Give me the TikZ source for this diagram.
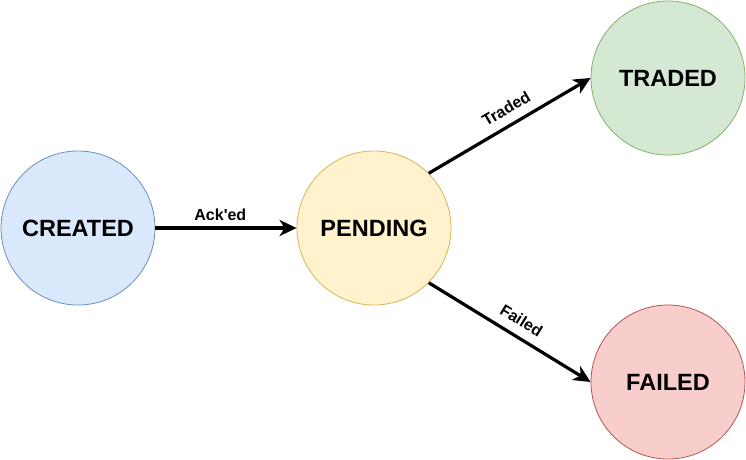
\documentclass[tikz,border=0pt]{standalone}
\usepackage{fontspec}
\setmainfont{Liberation Sans}[Ligatures=TeXOff]
\usetikzlibrary{arrows.meta}
\definecolor{bfill}{HTML}{DAE8FC}\definecolor{bdraw}{HTML}{6C8EBF}
\definecolor{yfill}{HTML}{FFF2CC}\definecolor{ydraw}{HTML}{D6B656}
\definecolor{gfill}{HTML}{D5E8D4}\definecolor{gdraw}{HTML}{82B366}
\definecolor{rfill}{HTML}{F8CECC}\definecolor{rdraw}{HTML}{B85450}
\tikzset{
  state/.style={circle, minimum size=154pt, inner sep=0pt, line width=0.8pt,
    font=\fontsize{23.5}{27}\selectfont\bfseries},
  trans/.style={line width=3.2pt, -{Stealth[length=17pt,width=16pt,inset=5pt]}},
  lbl/.style={font=\fontsize{16}{19}\selectfont\bfseries, inner sep=1pt}
}
\begin{document}
\begin{tikzpicture}[x=1pt,y=-1pt]
\useasboundingbox (0,0) rectangle (746,459);
\node[state, fill=bfill, draw=bdraw] (created) at (78,228) {CREATED};
\node[state, fill=yfill, draw=ydraw] (pending) at (374,228) {PENDING};
\node[state, fill=gfill, draw=gdraw] (traded) at (668,78) {TRADED};
\node[state, fill=rfill, draw=rdraw] (failed) at (668,382) {FAILED};
\draw[trans] (created.east) -- node[lbl, above=5pt, pos=0.46] {Ack'ed} (pending.west);
\draw[trans] (pending.north east) -- node[lbl, sloped, above=8pt, pos=0.53] {Traded} (traded.west);
\draw[trans] (pending.south east) -- node[lbl, sloped, above=8pt, pos=0.52] {Failed} (failed.west);
\end{tikzpicture}
\end{document}
